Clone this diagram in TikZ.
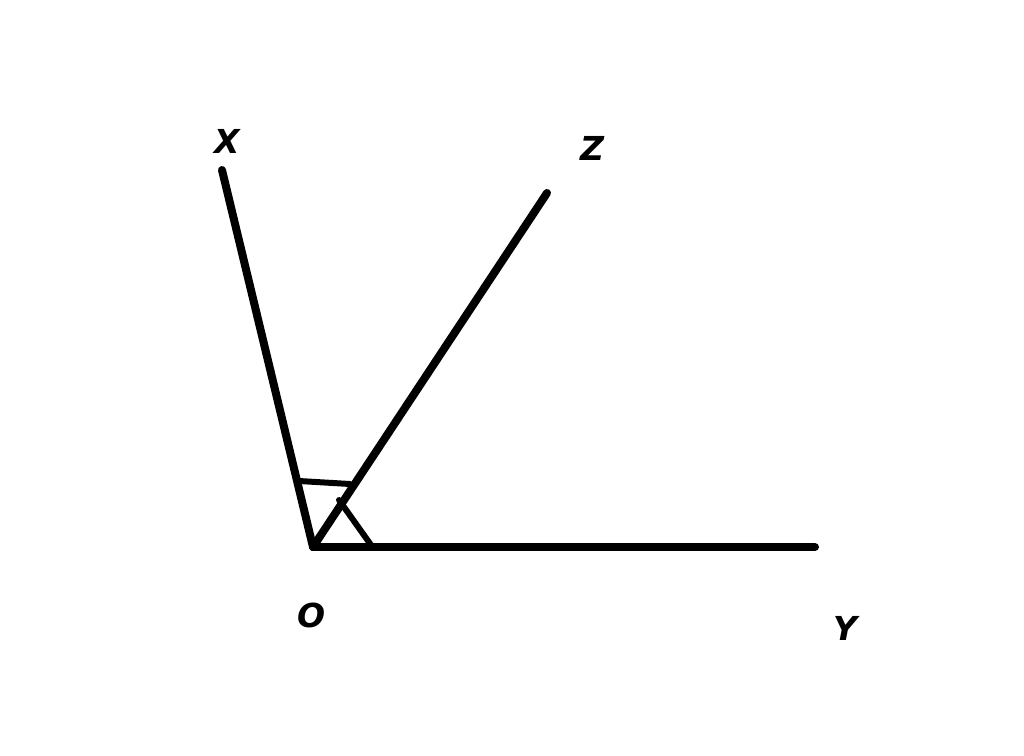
\documentclass[tikz,border=0pt]{standalone}
\usepackage{fontspec}
\setmainfont{DejaVu Sans}
\tikzset{ray/.style={line width=8pt,line cap=round},
         markline/.style={line width=6pt,line cap=round},
         lab/.style={font=\fontsize{33}{40}\selectfont\bfseries\itshape}}
\begin{document}
\begin{tikzpicture}[x=1pt,y=-1pt]
\useasboundingbox (0,0) rectangle (1024,755);
\coordinate (O) at (313,547);
\coordinate (X) at (222,170);
\coordinate (Z) at (547,193);
\coordinate (Y) at (815,547);
\coordinate (m1) at (299,481);
\coordinate (m2) at (350,484);
\coordinate (m3) at (339,500);
\coordinate (m4) at (371,545);
\draw[ray] (O) -- (X);
\draw[ray] (O) -- (Z);
\draw[ray] (O) -- (Y);
\draw[markline] (m1) -- (m2);
\draw[markline] (m3) -- (m4);
\node[lab] (lx) at (227,141) {X};
\node[lab] (lz) at (592,148) {Z};
\node[lab] (lo) at (312,615) {O};
\node[lab] (ly) at (845,628) {Y};
\end{tikzpicture}
\end{document}
